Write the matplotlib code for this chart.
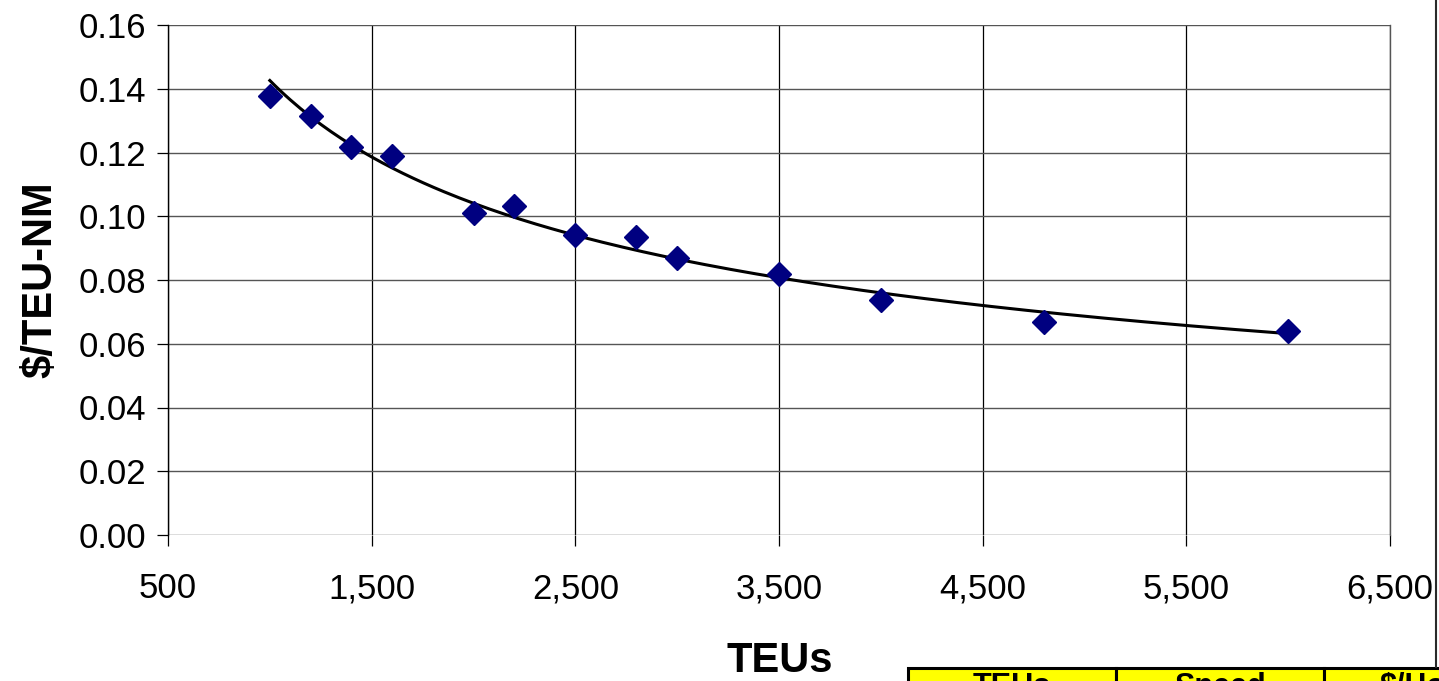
import numpy as np
import matplotlib
matplotlib.use("Agg")
import matplotlib.pyplot as plt
from matplotlib.lines import Line2D
from matplotlib.patches import Rectangle

plt.rcParams.update({
    "font.family": ["Liberation Sans", "DejaVu Sans"],
})

# data
teus = [1000, 1200, 1400, 1600, 2000, 2200, 2500, 2800, 3000, 3500, 4000, 4800, 6000]
cost = [0.1377, 0.1315, 0.1217, 0.1189, 0.1010, 0.1032, 0.0941, 0.0935,
        0.0869, 0.0819, 0.0737, 0.0668, 0.0640]
table_headers = ["TEUs", "Speed", "$/Hour"]

W, H = 1439, 681
fig = plt.figure(figsize=(W / 100, H / 100), dpi=100)
ax = fig.add_axes([168 / W, 1 - 535 / H, (1390 - 168) / W, (535 - 25) / H])

# power trendline fitted to the points
x = np.array(teus, float)
y = np.array(cost, float)
b, a = np.polyfit(np.log(x), np.log(y), 1)
xf = np.linspace(x.min(), x.max(), 200)
ax.plot(xf, np.exp(a) * xf ** b, color="black", lw=2.2, zorder=3)

ax.plot(teus, cost, ls="none", marker="D", ms=12.5, color="#000080",
        mec="#000080", zorder=4)

ax.set_xlim(500, 6500)
ax.set_ylim(0, 0.16)
ax.set_xticks(np.arange(500, 6501, 1000))
ax.set_yticks(np.arange(0, 0.1601, 0.02))
ax.xaxis.set_major_formatter(matplotlib.ticker.FuncFormatter(lambda v, p: f"{v:,.0f}"))
ax.yaxis.set_major_formatter(matplotlib.ticker.FuncFormatter(lambda v, p: f"{v:.2f}"))

ax.yaxis.grid(True, color="#555555", lw=1.0)
ax.xaxis.grid(True, color="black", lw=0.9)
ax.set_axisbelow(True)
for s in ["top", "bottom"]:
    ax.spines[s].set_visible(False)
ax.spines["right"].set_color("#555555")
ax.spines["right"].set_linewidth(1.0)
ax.spines["left"].set_color("black")
ax.spines["left"].set_linewidth(1.0)

ax.tick_params(axis="both", labelsize=25, direction="out", length=8, width=0.9)
ax.tick_params(axis="y", pad=8)
ax.tick_params(axis="x", pad=19)
ax.tick_params(axis="y", which="both", right=False)

fig.text(40 / W, 1 - 280 / H, "$/TEU-NM", rotation=90, ha="center", va="center",
         fontsize=30, fontweight="bold")
fig.text(780 / W, 1 - 661 / H, "TEUs", ha="center", va="center",
         fontsize=30, fontweight="bold")

# chart area border on the right
fig.add_artist(Line2D([1436 / W, 1436 / W], [1, 1 - 667 / H],
                      transform=fig.transFigure, color="#2a2a2a", lw=1.5))

# yellow table peeking in at the bottom right
edges = [908, 1116, 1324, 1532]
for i, hdr in enumerate(table_headers):
    x0, x1 = edges[i], edges[i + 1]
    fig.add_artist(Rectangle((x0 / W, -0.1), (x1 - x0) / W, 0.1 + (681 - 668) / H,
                             transform=fig.transFigure, facecolor="#FFFF00",
                             edgecolor="black", lw=2.2))
    fig.text((x0 + x1) / 2 / W, 1 - 672 / H, hdr, ha="center", va="top",
             fontsize=22, fontweight="bold")

fig.savefig("out.png", dpi=100)
